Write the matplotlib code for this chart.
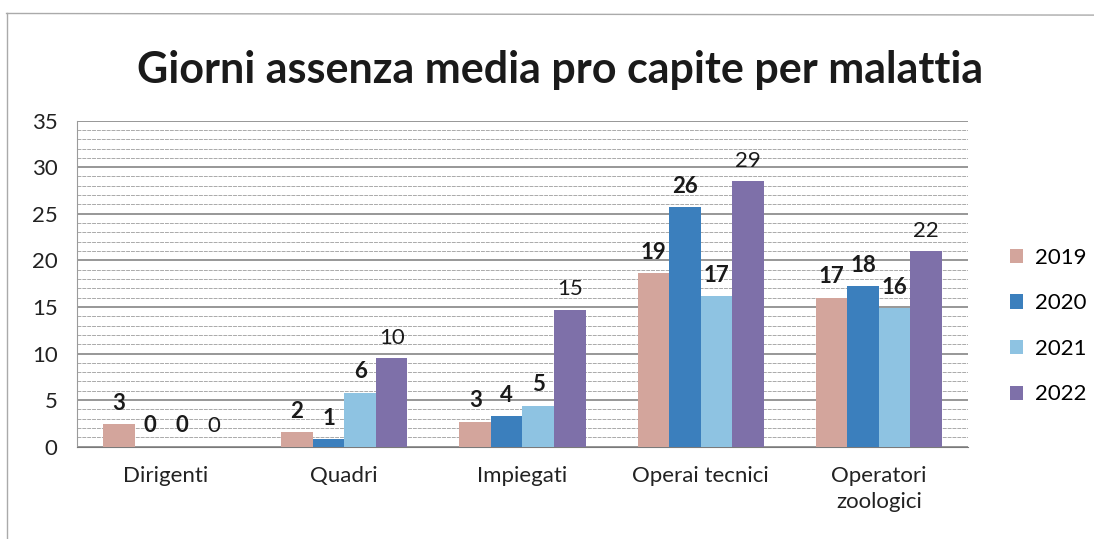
import numpy as np
import matplotlib
matplotlib.use("Agg")
import matplotlib.pyplot as plt

plt.rcParams['font.family'] = ['Lato', 'DejaVu Sans']

categorie = ['Dirigenti', 'Quadri', 'Impiegati', 'Operai tecnici', 'Operatori\nzoologici']
anni = ['2019', '2020', '2021', '2022']

# altezze
v2019 = [2.4, 1.6, 2.7, 18.6, 16.0]
v2020 = [0.0, 0.8, 3.3, 25.7, 17.2]
v2021 = [0.0, 5.8, 4.4, 16.2, 14.9]
v2022 = [0.0, 9.5, 14.7, 28.5, 21.0]

# etichette come scritte sul grafico
e2019 = ['3', '2', '3', '19', '17']
e2020 = ['0', '1', '4', '26', '18']
e2021 = ['0', '6', '5', '17', '16']
e2022 = ['0', '10', '15', '29', '22']

colori = ['#d3a59c', '#3b7fbd', '#8ec3e2', '#7e70a9']

serie = [v2019, v2020, v2021, v2022]
etichette = [e2019, e2020, e2021, e2022]

fig = plt.figure(figsize=(10.94, 5.39), dpi=100)
ax = fig.add_axes([0.0704, 0.1712, 0.8144, 0.6051])

x = np.arange(len(categorie))
w = 0.177
for i, (vals, lab) in enumerate(zip(serie, etichette)):
    pos = x + (i - 1.5) * w
    ax.bar(pos, vals, w, color=colori[i], label=anni[i], zorder=3)
    for p, v, t in zip(pos, vals, lab):
        ax.text(p, v + 1.1, t, ha='center', va='bottom', fontsize=16,
                fontweight='normal' if i == 3 else 'bold', color='#1a1a1a', zorder=4)

ax.set_ylim(0, 35)
ax.set_xlim(-0.5, len(categorie) - 0.5)
ax.set_yticks(range(0, 36, 5))
ax.set_yticks(range(0, 36, 1), minor=True)
ax.set_xticks(x)
ax.set_xticklabels(categorie, fontsize=16, color='#222222', linespacing=1.35)
ax.tick_params(axis='y', labelsize=16, colors='#222222', length=0, pad=14, which='both')
ax.tick_params(axis='x', length=0, pad=14)
ax.grid(axis='y', which='major', color='#7a7a7a', linewidth=1.1, zorder=0)
ax.grid(axis='y', which='minor', color='#aaaaaa', linewidth=0.7, linestyle=(0, (4, 1)), zorder=0)
for s in ['top', 'right']:
    ax.spines[s].set_visible(False)
ax.spines['left'].set_color('#9a9a9a')
ax.spines['bottom'].set_color('#7a7a7a')

fig.suptitle('Giorni assenza media pro capite per malattia', x=0.512, y=0.87, va='center',
             fontsize=31, fontweight='bold', color='#1a1a1a')

leg = fig.legend(loc='center left', bbox_to_anchor=(0.905, 0.395), frameon=False,
                 fontsize=16, handlelength=0.6, handleheight=0.6, handletextpad=0.5,
                 labelspacing=1.15)

# cornice della scansione
fig.add_artist(plt.Line2D([0.006, 0.006], [0.0, 0.975], color='#aaaaaa', lw=1))
fig.add_artist(plt.Line2D([0.006, 1.0], [0.975, 0.972], color='#aaaaaa', lw=1))

fig.savefig('out.png', dpi=100)
